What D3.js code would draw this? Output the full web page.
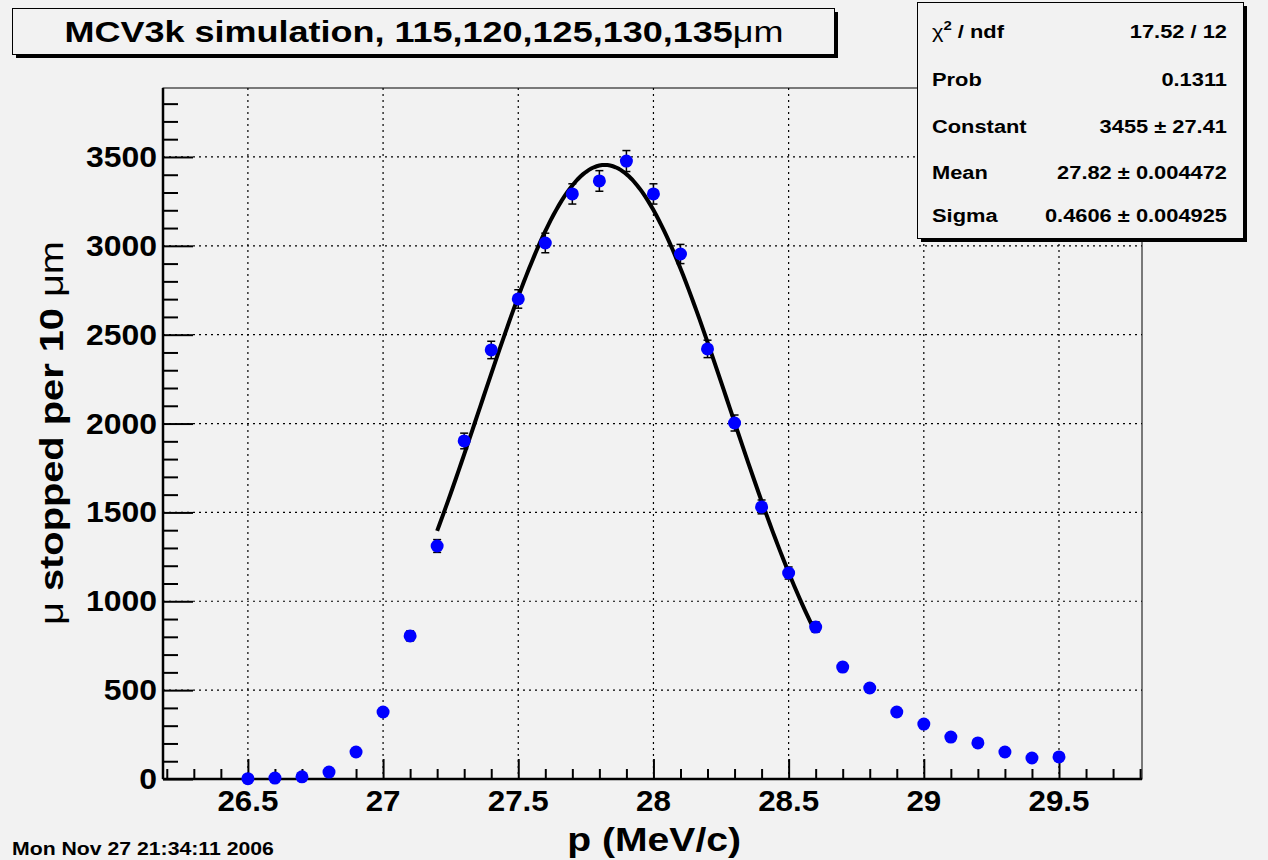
<!DOCTYPE html>
<html lang="en">
<head>
<meta charset="UTF-8">
<title>MCV3k simulation</title>
<script src="https://d3js.org/d3.v7.min.js"></script>
<style>
  body { margin: 0; background: #f2f2f2; }
  svg text { font-family: "Liberation Sans", Arial, Helvetica, sans-serif; font-weight: bold; fill: #000; }
</style>
</head>
<body>
<div id="chart"></div>
<script>
// data
const momentum = [26.5, 26.6, 26.7, 26.8, 26.9, 27.0, 27.1, 27.2, 27.3, 27.4, 27.5, 27.6, 27.7, 27.8, 27.9,
                  28.0, 28.1, 28.2, 28.3, 28.4, 28.5, 28.6, 28.7, 28.8, 28.9, 29.0, 29.1, 29.2, 29.3, 29.4, 29.5];
const stopped = [2, 5, 12, 39, 152, 377, 805, 1311, 1902, 2414, 2701, 3016, 3292, 3365, 3477,
                 3292, 2954, 2420, 2003, 1531, 1159, 855, 630, 512, 377, 309, 236, 203, 152, 118, 124];
const errors = [1, 2, 3, 6, 12, 19, 28, 36, 44, 49, 52, 55, 57, 58, 59,
                57, 54, 49, 45, 39, 34, 29, 25, 23, 19, 18, 15, 14, 12, 11, 11];

// gaussian fit parameters (from the stats box)
const fitConstant = 3455, fitMean = 27.82, fitSigma = 0.4606;
const fitRange = [27.2, 28.6];

const xTicks = [26.5, 27, 27.5, 28, 28.5, 29, 29.5];
const xTickLabels = ["26.5", "27", "27.5", "28", "28.5", "29", "29.5"];
const yTicks = [0, 500, 1000, 1500, 2000, 2500, 3000, 3500];
const yTickLabels = ["0", "500", "1000", "1500", "2000", "2500", "3000", "3500"];

const statNames = ["χ2 / ndf", "Prob", "Constant", "Mean", "Sigma"];
const statValues = ["17.52 / 12", "0.1311", "3455 ± 27.41", "27.82 ± 0.004472", "0.4606 ± 0.004925"];

const W = 1268, H = 860;
const frame = {left: 163, right: 1142, top: 88, bottom: 779};

const svg = d3.select("#chart").append("svg")
  .attr("width", W).attr("height", H);

svg.append("rect").attr("width", W).attr("height", H).attr("fill", "#f2f2f2");

// the original fonts run wider than Liberation Sans, so stretch horizontally
function label(parent, px, py, size, sx, anchor) {
  return parent.append("text")
    .attr("transform", `translate(${px},${py}) scale(${sx},1)`)
    .attr("font-size", size)
    .attr("text-anchor", anchor || "start");
}

const x = d3.scaleLinear().domain([26.186, 29.807]).range([frame.left, frame.right]);
const y = d3.scaleLinear().domain([0, 3888]).range([frame.bottom, frame.top]);

// grid (dotted)
const grid = svg.append("g").attr("stroke", "#000").attr("stroke-width", 1.2).attr("stroke-dasharray", "2,4");
grid.selectAll(".gx").data(xTicks).join("line")
  .attr("x1", d => x(d)).attr("x2", d => x(d))
  .attr("y1", frame.top).attr("y2", frame.bottom);
grid.selectAll(".gy").data(yTicks.filter(d => d > 0)).join("line")
  .attr("x1", frame.left).attr("x2", frame.right)
  .attr("y1", d => y(d)).attr("y2", d => y(d));

// axes with major and minor ticks
const xMinor = d3.range(26.2, 29.85, 0.1).map(d => +d.toFixed(1)).filter(d => !xTicks.includes(d));
const yMinor = d3.range(0, 3850, 100).filter(d => !yTicks.includes(d));

const xAxisMajor = d3.axisTop(x).tickValues(xTicks).tickSize(20).tickFormat("");
const xAxisMinor = d3.axisTop(x).tickValues(xMinor).tickSize(10).tickFormat("");
const yAxisMajor = d3.axisRight(y).tickValues(yTicks).tickSize(30).tickFormat("");
const yAxisMinor = d3.axisRight(y).tickValues(yMinor).tickSize(15).tickFormat("");

function styleAxis(g) {
  g.select(".domain").remove();
  g.selectAll(".tick line").attr("stroke", "#000").attr("stroke-width", 2);
}
svg.append("g").attr("transform", `translate(0,${frame.bottom})`).call(xAxisMajor).call(styleAxis);
svg.append("g").attr("transform", `translate(0,${frame.bottom})`).call(xAxisMinor).call(styleAxis);
svg.append("g").attr("transform", `translate(${frame.left},0)`).call(yAxisMajor).call(styleAxis);
svg.append("g").attr("transform", `translate(${frame.left},0)`).call(yAxisMinor).call(styleAxis);

// frame
svg.append("rect")
  .attr("x", frame.left).attr("y", frame.top)
  .attr("width", frame.right - frame.left).attr("height", frame.bottom - frame.top)
  .attr("fill", "none").attr("stroke", "#000").attr("stroke-width", 1);
svg.append("line").attr("x1", frame.left).attr("x2", frame.left).attr("y1", frame.top).attr("y2", frame.bottom)
  .attr("stroke", "#000").attr("stroke-width", 2.5);
svg.append("line").attr("x1", frame.left).attr("x2", frame.right).attr("y1", frame.bottom).attr("y2", frame.bottom)
  .attr("stroke", "#000").attr("stroke-width", 2.5);

// tick labels
xTicks.forEach((d, i) => label(svg, x(d), 811, 29, 1.08, "middle").text(xTickLabels[i]));
yTicks.forEach((d, i) => label(svg, 157, y(d) + 10, 29, 1.1, "end").text(yTickLabels[i]));

// axis titles
label(svg, 741, 851, 34, 1.15, "end").text("p (MeV/c)");
const yTitle = svg.append("text")
  .attr("transform", "translate(63,625) rotate(-90) scale(1.17,1)")
  .attr("font-size", 34);
yTitle.append("tspan").attr("font-weight", "normal").text("μ");
yTitle.append("tspan").text(" stopped per 10 ");
yTitle.append("tspan").attr("font-weight", "normal").text("μm");

// fit curve
const fitX = d3.range(fitRange[0], fitRange[1] + 1e-9, 0.01);
const gauss = v => fitConstant * Math.exp(-0.5 * Math.pow((v - fitMean) / fitSigma, 2));
svg.append("path")
  .datum(fitX)
  .attr("fill", "none").attr("stroke", "#000").attr("stroke-width", 4)
  .attr("d", d3.line().x(d => x(d)).y(d => y(gauss(d))));

// error bars
const pts = momentum.map((m, i) => ({m, v: stopped[i], e: errors[i]}));
const eb = svg.append("g").attr("stroke", "#000").attr("stroke-width", 1.5);
eb.selectAll(".ev").data(pts).join("line")
  .attr("x1", d => x(d.m)).attr("x2", d => x(d.m))
  .attr("y1", d => y(d.v - d.e)).attr("y2", d => y(d.v + d.e));
eb.selectAll(".et").data(pts).join("line")
  .attr("x1", d => x(d.m) - 4).attr("x2", d => x(d.m) + 4)
  .attr("y1", d => y(d.v + d.e)).attr("y2", d => y(d.v + d.e));
eb.selectAll(".eb").data(pts).join("line")
  .attr("x1", d => x(d.m) - 4).attr("x2", d => x(d.m) + 4)
  .attr("y1", d => y(d.v - d.e)).attr("y2", d => y(d.v - d.e));

// markers
svg.append("g").selectAll("circle").data(pts).join("circle")
  .attr("cx", d => x(d.m)).attr("cy", d => y(d.v)).attr("r", 6.5)
  .attr("fill", "#0000ff");

// title box
svg.append("rect").attr("x", 16).attr("y", 12).attr("width", 822).attr("height", 46).attr("fill", "#000");
svg.append("rect").attr("x", 12.5).attr("y", 8.5).attr("width", 822).attr("height", 46)
  .attr("fill", "#f2f2f2").attr("stroke", "#000").attr("stroke-width", 1);
const title = label(svg, 424, 42, 30, 1.2, "middle");
title.append("tspan").text("MCV3k simulation, 115,120,125,130,135");
title.append("tspan").attr("font-weight", "normal").text("μm");

// stats box
const sb = {x: 917, y: 2, w: 326, h: 236};
svg.append("rect").attr("x", sb.x + 4).attr("y", sb.y + 4).attr("width", sb.w).attr("height", sb.h).attr("fill", "#000");
svg.append("rect").attr("x", sb.x + 0.5).attr("y", sb.y + 0.5).attr("width", sb.w).attr("height", sb.h)
  .attr("fill", "#f2f2f2").attr("stroke", "#000").attr("stroke-width", 1);
const rowY = [38, 86, 133, 179, 222];
statNames.forEach((n, i) => {
  const t = label(svg, 932, rowY[i], 19, 1.15);
  if (i === 0) {
    t.append("tspan").attr("font-weight", "normal").text("χ");
    t.append("tspan").attr("font-size", 13).attr("dy", -8).text("2");
    t.append("tspan").attr("dy", 8).text(" / ndf");
  } else {
    t.text(n);
  }
  label(svg, 1227, rowY[i], 19, 1.15, "end").text(statValues[i]);
});

// date stamp
label(svg, 12, 855, 18, 1.18).text("Mon Nov 27 21:34:11 2006");
</script>
</body>
</html>
